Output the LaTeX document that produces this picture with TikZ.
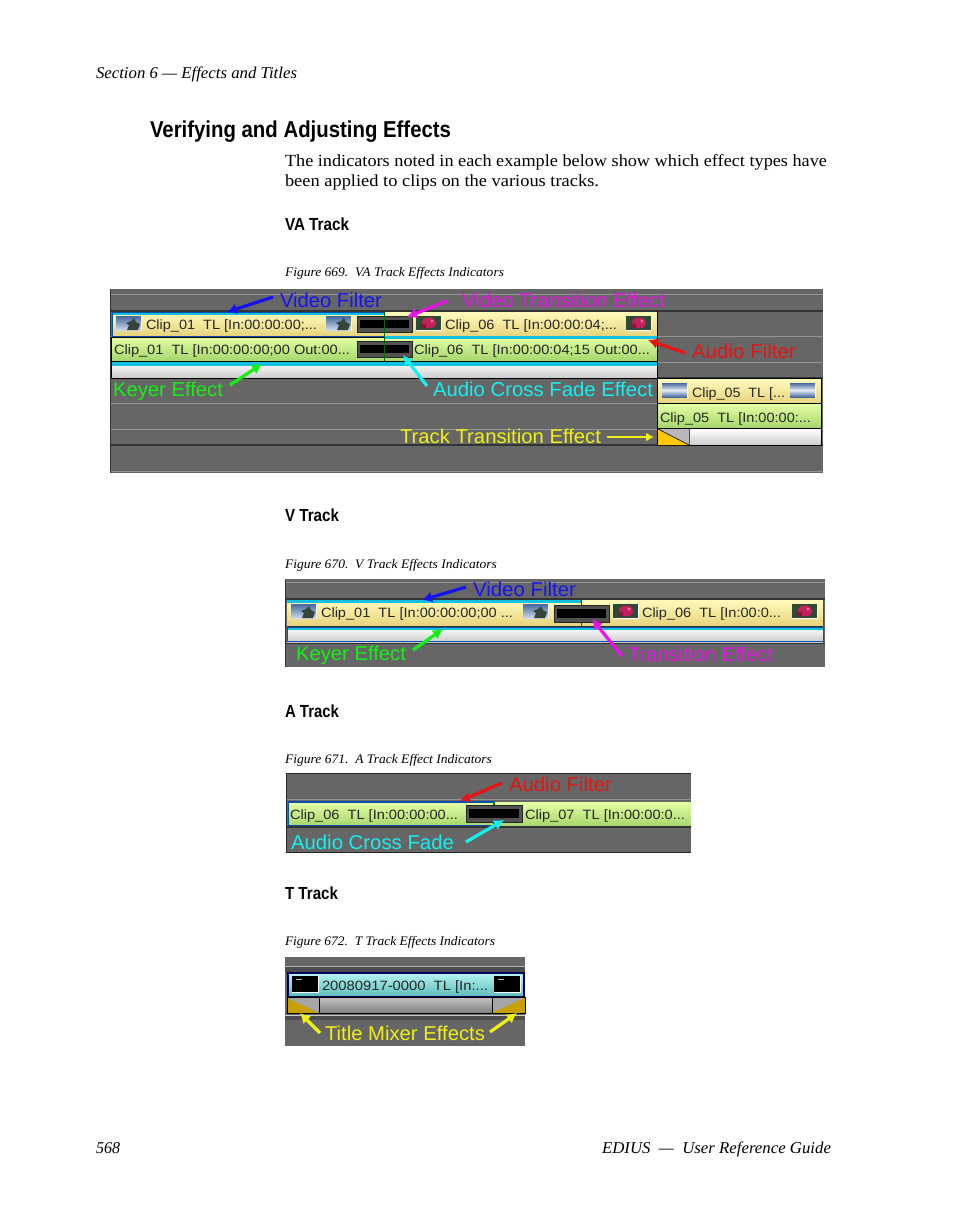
\documentclass[tikz,border=0pt]{standalone}
\usepackage{fontspec}
\usepackage{graphicx}
\usetikzlibrary{arrows.meta}
\setmainfont{Liberation Serif}
\newfontfamily\arf{Liberation Sans}
\definecolor{panelgray}{HTML}{666666}
\definecolor{linegray}{HTML}{949494}
\definecolor{lblblue}{HTML}{1414F0}
\definecolor{lblmag}{HTML}{E614E6}
\definecolor{lblred}{HTML}{E61414}
\definecolor{lblgreen}{HTML}{14F014}
\definecolor{lblcyan}{HTML}{14F0F0}
\definecolor{lblyellow}{HTML}{F0F014}
\definecolor{barcyan}{HTML}{14C0E0}
\definecolor{edgeblue}{HTML}{0A50B0}
\definecolor{ytop}{HTML}{FFFABC}
\definecolor{ybot}{HTML}{E6D47C}
\definecolor{gtop}{HTML}{E4FFA4}
\definecolor{gbot}{HTML}{A6D56C}
\definecolor{ctop}{HTML}{B4F4F0}
\definecolor{cbot}{HTML}{5CBCBC}
\definecolor{skytop}{HTML}{46689C}
\definecolor{skybot}{HTML}{CCDAEA}
\definecolor{tree}{HTML}{36463A}
\definecolor{leaf}{HTML}{2E4A34}
\definecolor{petal}{HTML}{C4205C}
\definecolor{gold}{HTML}{FFC800}
\definecolor{dgold}{HTML}{C8A000}
\tikzset{
 txt/.style={anchor=base west,inner sep=0pt,outer sep=0pt,text=black},
 pagehead/.style={txt,font=\arf\bfseries\fontsize{23}{23}\selectfont},
 subhead/.style={txt,font=\arf\bfseries\fontsize{17.5}{18}\selectfont},
 body/.style={txt,font=\fontsize{17}{18}\selectfont},
 ital/.style={txt,font=\itshape\fontsize{16.5}{18}\selectfont},
 figcap/.style={txt,font=\itshape\fontsize{13}{14}\selectfont},
 cliptext/.style={txt,font=\arf\fontsize{13.5}{14}\selectfont,text=black!85},
 lbl/.style={txt,font=\arf\fontsize{20}{20}\selectfont},
 arr/.style={-{Latex[length=10pt,width=11pt]},line width=3.2pt},
 arrthin/.style={-{Latex[length=8pt,width=9pt]},line width=2.6pt},
 track/.style={line width=1pt,linegray},
 dark/.style={line width=1.4pt,black!80},
 yclip/.style={top color=ytop,bottom color=ybot},
 gclip/.style={top color=gtop,bottom color=gbot},
 wclip/.style={top color=white,bottom color=black!20},
 panel/.style={fill=panelgray},
}
\newcommand\TT[6]{\node[#5] (#1) at (#2,#3) {\resizebox{#4pt}{\height}{#6}};}
\newcommand\palm[2]{\begin{scope}[shift={(#1,#2)}]
 \fill[white] (0,0) rectangle (26,15);
 \shade[top color=skytop,bottom color=skybot] (0,0) rectangle (25,14);
 \fill[tree] (11,14) -- (13,9) -- (10,7) -- (15,5) -- (18,2) -- (20,6) -- (24,8) -- (22,14) -- cycle;
 \end{scope}}
\newcommand\flower[2]{\begin{scope}[shift={(#1,#2)}]
 \fill[white] (0,0) rectangle (26,15);
 \fill[leaf] (0,0) rectangle (25,14);
 \fill[petal] (13,7) ellipse (7 and 5.5);
 \fill[petal!70!black] (8,10) circle (2.5);
 \fill[petal!60!white] (16,5) circle (1.6);
 \end{scope}}
\newcommand\seathumb[2]{\begin{scope}[shift={(#1,#2)}]
 \fill[white] (0,0) rectangle (26,15);
 \shade[top color=skytop,bottom color=white] (0,0) rectangle (25,8);
 \shade[top color=skybot,bottom color=skytop] (0,8) rectangle (25,14);
 \end{scope}}
\newcommand\xbox[4]{\fill[black!68] (#1,#2) rectangle (#3,#4);
 \draw[line width=0.8pt,black!85] (#1,#2) rectangle (#3,#4);
 \fill[black] (#1+3,#2+4) rectangle (#3-3,#4-4);}
\begin{document}
\begin{tikzpicture}[x=1pt,y=-1pt]
\useasboundingbox (0,0) rectangle (954,1227);
% page text
\TT{sec}{96}{78}{201}{ital}{Section 6 — Effects and Titles}
\TT{head}{150}{137}{301}{pagehead}{Verifying and Adjusting Effects}
\TT{bodya}{285}{166}{542}{body}{The indicators noted in each example below show which effect types have}
\TT{bodyb}{285}{186}{314}{body}{been applied to clips on the various tracks.}
\TT{hva}{285}{230}{64}{subhead}{VA Track}
\TT{fva}{285}{276}{219}{figcap}{Figure 669.\ \ VA Track Effects Indicators}
\TT{hv}{285}{521}{54}{subhead}{V Track}
\TT{fv}{285}{568}{212}{figcap}{Figure 670.\ \ V Track Effects Indicators}
\TT{ha}{285}{717}{54}{subhead}{A Track}
\TT{fa}{285}{763}{207}{figcap}{Figure 671.\ \ A Track Effect Indicators}
\TT{ht}{285}{899}{53}{subhead}{T Track}
\TT{ft}{285}{945}{210}{figcap}{Figure 672.\ \ T Track Effects Indicators}
\TT{pno}{96}{1153}{24}{ital}{568}
\TT{guide}{602}{1153}{229}{ital}{EDIUS\ \ —\ \ User Reference Guide}
% ===== VA panel =====
\fill[panel] (110,289) rectangle (823,473);
\draw[black!80,line width=1.4pt] (110.5,289) -- (110.5,473);
\foreach \yy in {294,336,362,403,429,471} \draw[track] (111,\yy) -- (823,\yy);
\foreach \yy in {311,378,445} \draw[dark] (111,\yy) -- (823,\yy);
\shade[yclip] (112,312) rectangle (384,336);
\shade[yclip] (384,312) rectangle (657,336);
\shade[gclip] (112,337) rectangle (657,361);
\shade[wclip] (112,362) rectangle (657,378);
\fill[barcyan] (384,336) rectangle (657,339);
\fill[barcyan] (112,362) rectangle (657,366);
\fill[barcyan] (112,312) rectangle (384,315);
\draw[edgeblue,line width=1pt] (112,312) rectangle (384,336);
\draw[black,line width=1pt] (112,337) -- (384,337) (112,361.5) -- (657,361.5);
\draw[black,line width=1pt] (657.5,311) -- (657.5,378) (112,378) -- (657,378);
\draw[black,line width=1pt] (111.5,337) -- (111.5,378);
\palm{116}{316}\palm{326}{316}\flower{416}{316}\flower{626}{316}
\xbox{357}{316}{412}{332}
\xbox{357}{341}{412}{357}
\draw[green!40!black,line width=0.8pt] (384.5,312) -- (384.5,361);
\TT{c1}{146}{329}{171}{cliptext}{Clip\_01\ \ TL [In:00:00:00;...}
\TT{c2}{445}{329}{172}{cliptext}{Clip\_06\ \ TL [In:00:00:04;...}
\TT{c3}{114}{354}{236}{cliptext}{Clip\_01\ \ TL [In:00:00:00;00 Out:00...}
\TT{c4}{414}{354}{236}{cliptext}{Clip\_06\ \ TL [In:00:00:04;15 Out:00...}
% right clips
\shade[yclip] (658,379) rectangle (821,403);
\shade[gclip] (658,404) rectangle (821,428);
\shade[wclip] (658,429) rectangle (821,445);
\draw[black,line width=1pt] (657.5,378.5) rectangle (821.5,445.5) (658,403.5) -- (821,403.5) (658,428.5) -- (821,428.5);
\fill[black!28] (658,429) rectangle (689,445);
\fill[gold] (658,429) -- (689,445) -- (658,445) -- cycle;
\draw[black,line width=0.6pt] (658,429) -- (689,445);
\draw[black!70,line width=0.6pt] (689.5,429) -- (689.5,445);
\seathumb{662}{383}\seathumb{790}{383}
\TT{c5}{692}{397}{93}{cliptext}{Clip\_05\ \ TL [...}
\TT{c6}{660}{422}{151}{cliptext}{Clip\_05\ \ TL [In:00:00:...}
% labels
\TT{lvf}{280}{307}{102}{lbl,text=lblblue}{Video Filter}
\TT{lvt}{462}{307}{203}{lbl,text=lblmag}{Video Transition Effect}
\TT{laf}{692}{358}{104}{lbl,text=lblred}{Audio Filter}
\TT{lke}{113}{396}{110}{lbl,text=lblgreen}{Keyer Effect}
\TT{lac}{433}{396}{220}{lbl,text=lblcyan}{Audio Cross Fade Effect}
\TT{ltt}{400}{443}{201}{lbl,text=lblyellow}{Track Transition Effect}
\coordinate (a1s) at (273,297); \coordinate (a1e) at (227,312);
\coordinate (a2s) at (447,301); \coordinate (a2e) at (407,317);
\coordinate (a3s) at (685,353); \coordinate (a3e) at (648,340);
\coordinate (a4s) at (230,385); \coordinate (a4e) at (262,364);
\coordinate (a5s) at (427,386); \coordinate (a5e) at (403,355);
\coordinate (a6s) at (607,437); \coordinate (a6e) at (654,437);
\draw[arr,lblblue] (a1s) -- (a1e);
\draw[arr,lblmag] (a2s) -- (a2e);
\draw[arr,lblred] (a3s) -- (a3e);
\draw[arr,lblgreen] (a4s) -- (a4e);
\draw[arr,lblcyan] (a5s) -- (a5e);
\draw[arrthin,lblyellow] (a6s) -- (a6e);
% ===== V panel =====
\fill[panel] (285,579) rectangle (825,667);
\draw[black!80,line width=1.4pt] (285.5,579) -- (285.5,667);
\draw[black!60,line width=0.8pt] (285,579) -- (825,579);
\draw[track] (286,582) -- (825,582);
\draw[dark] (286,599) -- (825,599);
\shade[yclip] (287,600) rectangle (823,626);
\shade[wclip] (287,627) rectangle (823,642);
\fill[barcyan] (287,600) rectangle (581,603);
\fill[barcyan] (287,627) rectangle (823,630);
\draw[black!80,line width=1pt] (287,626) -- (823,626);
\draw[edgeblue,line width=1pt] (287,627) rectangle (823,641);
\draw[dark] (286,643.5) -- (825,643.5);
\draw[black!70,line width=0.6pt] (823.5,600) -- (823.5,626);
\palm{291}{604}\palm{523}{604}\flower{613}{604}\flower{792}{604}
\xbox{554}{605}{609}{622}
\draw[green!40!black,line width=0.8pt] (581.5,600) -- (581.5,605) (581.5,622) -- (581.5,626);
\TT{d1}{321}{617}{192}{cliptext}{Clip\_01\ \ TL [In:00:00:00;00 ...}
\TT{d2}{642}{617}{139}{cliptext}{Clip\_06\ \ TL [In:00:0...}
\TT{mvf}{473}{596}{103}{lbl,text=lblblue}{Video Filter}
\TT{mke}{296}{660}{110}{lbl,text=lblgreen}{Keyer Effect}
\TT{mtr}{628}{661}{145}{lbl,text=lblmag}{Transition Effect}
\coordinate (b1s) at (466,587); \coordinate (b1e) at (422,600);
\coordinate (b2s) at (413,650); \coordinate (b2e) at (443,629);
\coordinate (b3s) at (622,656); \coordinate (b3e) at (592,619);
\draw[arr,lblblue] (b1s) -- (b1e);
\draw[arr,lblgreen] (b2s) -- (b2e);
\draw[arr,lblmag] (b3s) -- (b3e);
% ===== A panel =====
\fill[panel] (286,773) rectangle (691,853);
\draw[black!85,line width=1.2pt] (286,773.5) -- (691,773.5) (286.5,773) -- (286.5,853) (286,852.5) -- (691,852.5);
\draw[track] (287,799) -- (691,799);
\shade[gclip] (288,802) rectangle (691,826);
\draw[edgeblue,line width=1.2pt] (288.5,802) rectangle (494,826);
\draw[dark] (287,827) -- (691,827);
\xbox{466}{805}{522}{822}
\draw[green!50!black,line width=0.8pt] (494.5,802) -- (494.5,805);
\TT{e1}{290}{819}{168}{cliptext}{Clip\_06\ \ TL [In:00:00:00...}
\TT{e2}{525}{819}{160}{cliptext}{Clip\_07\ \ TL [In:00:00:0...}
\TT{naf}{509}{791}{103}{lbl,text=lblred}{Audio Filter}
\TT{nac}{291}{849}{163}{lbl,text=lblcyan}{Audio Cross Fade}
\coordinate (c1s) at (502,783); \coordinate (c1e) at (460,801);
\coordinate (c2s) at (466,842); \coordinate (c2e) at (504,820);
\draw[arr,lblred] (c1s) -- (c1e);
\draw[arr,lblcyan] (c2s) -- (c2e);
% ===== T panel =====
\fill[panel] (285,957) rectangle (525,1046);
\draw[line width=1pt,black!30] (285,966) -- (525,966);
\fill[black!70] (285,967) rectangle (525,973);
\shade[top color=ctop,bottom color=cbot] (288,973) rectangle (524,997);
\draw[black!40!blue!60!black,line width=1.2pt] (288,973) rectangle (524,997);
\fill[black] (292,976) rectangle (318,992);
\fill[black] (494,976) rectangle (520,992);
\draw[white,line width=0.6pt] (318.5,976) -- (318.5,992.5) -- (292,992.5);
\draw[white,line width=0.6pt] (520.5,976) -- (520.5,992.5) -- (494,992.5);
\fill[white!70!black] (296,979) rectangle (302,980);
\fill[white!70!black] (498,979) rectangle (504,980);
\shade[top color=black!25,bottom color=black!50] (287,998) rectangle (525,1013);
\fill[black!35] (287,998) rectangle (319,1013);
\fill[black!35] (492,998) rectangle (525,1013);
\fill[dgold] (287,998) -- (319,1013) -- (287,1013) -- cycle;
\fill[dgold] (525,998) -- (492,1013) -- (525,1013) -- cycle;
\draw[black,line width=0.9pt] (287,997.5) rectangle (525,1013.5) (319,998) -- (319,1013) (492,998) -- (492,1013);
\draw[line width=1pt,black!20] (285,1015) -- (525,1015);
\fill[black!70] (285,1016) rectangle (525,1020);
\TT{f1}{322}{990}{166}{cliptext}{20080917-0000\ \ TL [In:...}
\TT{tmx}{325}{1040}{160}{lbl,text=lblyellow}{Title Mixer Effects}
\coordinate (d1s) at (320,1033); \coordinate (d1e) at (300,1013);
\coordinate (d2s) at (490,1032); \coordinate (d2e) at (517,1013);
\draw[arr,lblyellow] (d1s) -- (d1e);
\draw[arr,lblyellow] (d2s) -- (d2e);
\end{tikzpicture}
\end{document}
